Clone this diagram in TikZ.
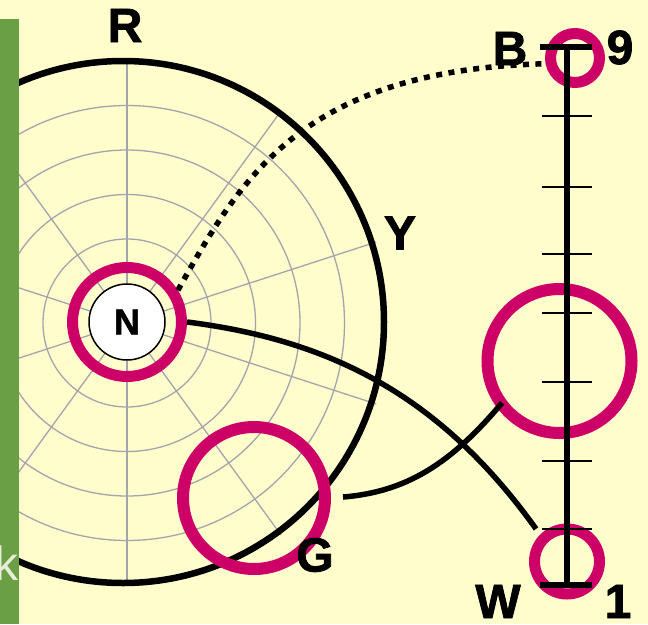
\documentclass[tikz,border=0pt]{standalone}
\usepackage{fontspec}
\setmainfont{Liberation Sans}
\newfontfamily\heavyfont{Liberation Sans}[BoldFeatures={FakeBold=1.6}]
\usetikzlibrary{calc}
\definecolor{bgyellow}{HTML}{FFFDCC}
\definecolor{stripgreen}{HTML}{6A9F45}
\definecolor{ringmag}{HTML}{CC0066}
\definecolor{gridgrey}{HTML}{A4A4AC}
\definecolor{kcol}{HTML}{E8EDD8}
\begin{document}
\begin{tikzpicture}[x=1pt,y=-1pt,
  lbl/.style={font=\fontsize{48}{48}\heavyfont\bfseries, inner sep=0pt, text=black},
  ring/.style={circle, draw=ringmag, line width=11pt, inner sep=0pt},
  conn/.style={line width=5.5pt, draw=black},
  gridline/.style={draw=gridgrey, line width=1.3pt},
  tickmark/.style={draw=black, line width=2pt},
]
\useasboundingbox (0,0) rectangle (648,624);
\fill[bgyellow] (0,0) rectangle (648,624);
% polar grid
\coordinate (gc) at (127,323);
\foreach \r in {84,128.5,173,217.5}
  \draw[gridline] (gc) circle[radius=\r pt];
\foreach \a in {18,54,...,342}
  \draw[gridline] ($(gc)+(\a:38pt)$) -- ($(gc)+(\a:262pt)$);
% big dial circle
\node[circle, draw=black, line width=6.5pt, minimum size=522pt, inner sep=0pt] (dial) at (123,322) {};
% green strip and letter
\fill[stripgreen] (0,19) rectangle (18.5,624);
\node[font=\fontsize{48}{48}\selectfont, text=kcol, inner sep=0pt, anchor=base east] (k) at (19,580) {k};
% centre node
\node[circle, draw=black, fill=white, line width=1.5pt, minimum size=76pt, inner sep=0pt,
      font=\fontsize{36}{36}\heavyfont\bfseries] (N) at (127,322) {N};
% rings
\node[ring, minimum size=109pt] (Nring) at (127,322) {};
\node[ring, minimum size=49pt] (tring) at (575,58) {};
\node[ring, line width=12pt, minimum size=144pt] (mring) at (559.5,361) {};
\node[ring, minimum size=65pt] (bring) at (567,561.5) {};
\node[ring, line width=12pt, minimum size=142pt] (gring) at (254,498) {};
\coordinate (mend) at ($(mring.center)+(216:71pt)$);
% connectors
\draw[conn, line width=5.5pt, dash pattern=on 6pt off 6.5pt] (Nring.32) .. controls (240,180) and (300,70) .. (tring.191);
\draw[conn, shorten >=7pt] (Nring.east) .. controls (330,340) and (440,395) .. (bring.135);
\draw[conn, shorten <=12pt] (gring.east) .. controls (405,492) and (450,465) .. (mend);
% scale
\draw[line width=6pt] (567,47) -- (567,585);
\draw[line width=6pt] (540,47) -- (592,47);
\draw[line width=6pt] (540,585) -- (592,585);
\foreach \y in {116,187,254,313,382,461,529}
  \draw[tickmark] (542,\y) -- (592,\y);
% labels
\node[lbl] (R) at (125,25.5) {R};
\node[lbl] (Y) at (400,233) {Y};
\node[lbl] (G) at (315,555) {G};
\node[lbl] (B) at (510,48.5) {B};
\node[lbl] (nine) at (620,47.5) {9};
\node[lbl] (W) at (498,601.5) {W};
\node[lbl] (one) at (618,601.5) {1};
\end{tikzpicture}
\end{document}
